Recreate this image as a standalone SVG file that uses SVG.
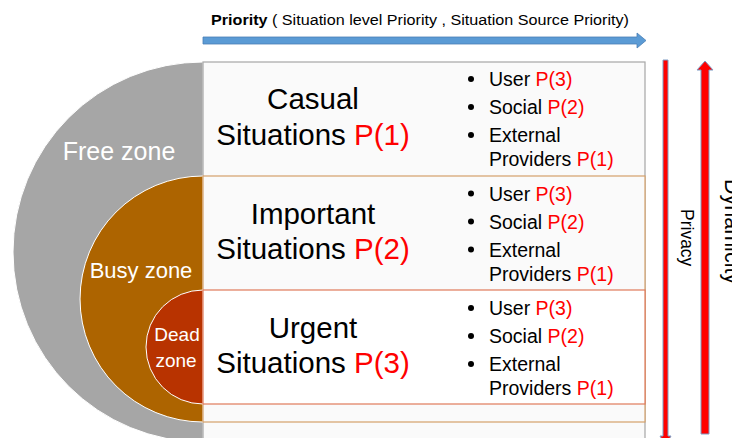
<svg xmlns="http://www.w3.org/2000/svg" width="732" height="438" viewBox="0 0 732 438">
<style>
text{font-family:"Liberation Sans",Arial,sans-serif}
.z{fill:#fff}
.h{font-size:29.5px;fill:#000;text-anchor:middle}
.b{font-size:19.5px;fill:#000}
.r{fill:#ff0000}
.dot{fill:#000}
.arr{fill:#ff0000;stroke:#7f9cc4;stroke-width:1}
</style>
<g id="title">
<text x="211" y="25" font-size="15.5" fill="#000" textLength="418" lengthAdjust="spacingAndGlyphs"><tspan font-weight="bold">Priority</tspan> ( Situation level Priority , Situation Source Priority)</text>
</g>
<g id="free-zone">
<path d="M203,62 A190,190 0 0 0 203,442 Z" fill="#a6a6a6" stroke="#fff" stroke-width="1"/>
<rect x="203" y="62" width="442" height="380" fill="#fafafa" stroke="#a6a6a6" stroke-width="1.2"/>
<text class="z" x="119" y="160" font-size="25" text-anchor="middle">Free zone</text>
</g>
<g id="busy-zone">
<path d="M203,176 A123,123 0 0 0 203,422 Z" fill="#ad6400" stroke="#fff" stroke-width="1"/>
<rect x="203" y="176" width="442" height="246" fill="#fafafa" stroke="#d4a06a" stroke-width="1.2"/>
<text class="z" x="141" y="278" font-size="22" text-anchor="middle">Busy zone</text>
</g>
<g id="dead-zone">
<path d="M203,290 A57,57 0 0 0 203,404 Z" fill="#b83300" stroke="#fff" stroke-width="1"/>
<rect x="203" y="290" width="442" height="114" fill="#fff" stroke="#e07a5a" stroke-width="1.2"/>
<text class="z" x="177" y="341" font-size="19" text-anchor="middle">Dead</text>
<text class="z" x="176" y="367" font-size="19" text-anchor="middle">zone</text>
</g>
<g id="casual">
<text class="h" x="313" y="109">Casual</text>
<text class="h" x="313" y="145">Situations <tspan class="r">P(1)</tspan></text>
<circle class="dot" cx="471" cy="79" r="3"/>
<circle class="dot" cx="471" cy="107" r="3"/>
<circle class="dot" cx="471" cy="135" r="3"/>
<text class="b" x="489" y="86">User <tspan class="r">P(3)</tspan></text>
<text class="b" x="489" y="114">Social <tspan class="r">P(2)</tspan></text>
<text class="b" x="489" y="142">External</text>
<text class="b" x="489" y="166">Providers <tspan class="r">P(1)</tspan></text>
</g>
<g id="important">
<text class="h" x="313" y="224">Important</text>
<text class="h" x="313" y="259">Situations <tspan class="r">P(2)</tspan></text>
<circle class="dot" cx="471" cy="193.5" r="3"/>
<circle class="dot" cx="471" cy="221.5" r="3"/>
<circle class="dot" cx="471" cy="249.5" r="3"/>
<text class="b" x="489" y="200.5">User <tspan class="r">P(3)</tspan></text>
<text class="b" x="489" y="228.5">Social <tspan class="r">P(2)</tspan></text>
<text class="b" x="489" y="256.5">External</text>
<text class="b" x="489" y="280.5">Providers <tspan class="r">P(1)</tspan></text>
</g>
<g id="urgent">
<text class="h" x="313" y="338">Urgent</text>
<text class="h" x="313" y="373">Situations <tspan class="r">P(3)</tspan></text>
<circle class="dot" cx="471" cy="308" r="3"/>
<circle class="dot" cx="471" cy="336" r="3"/>
<circle class="dot" cx="471" cy="364" r="3"/>
<text class="b" x="489" y="315">User <tspan class="r">P(3)</tspan></text>
<text class="b" x="489" y="343">Social <tspan class="r">P(2)</tspan></text>
<text class="b" x="489" y="371">External</text>
<text class="b" x="489" y="395">Providers <tspan class="r">P(1)</tspan></text>
</g>
<g id="connectors">
<polygon points="203,37 637,37 637,33 646,40.5 637,48 637,44 203,44" fill="#5b9bd5" stroke="#4a7fb5" stroke-width="0.8"/>
<polygon class="arr" points="663,60 668,60 668,436 671,436 665.5,446 660,436 663,436"/>
<polygon class="arr" points="701,434 709,434 709,70 713,70 705,61 697,70 701,70"/>
</g>
<g id="axis-labels">
<text x="681" y="209" font-size="17.5" fill="#000" transform="rotate(90 681 209)">Privacy</text>
<text x="725" y="179" font-size="21.5" fill="#000" transform="rotate(90 725 179)">Dynamicity</text>
</g>
</svg>
